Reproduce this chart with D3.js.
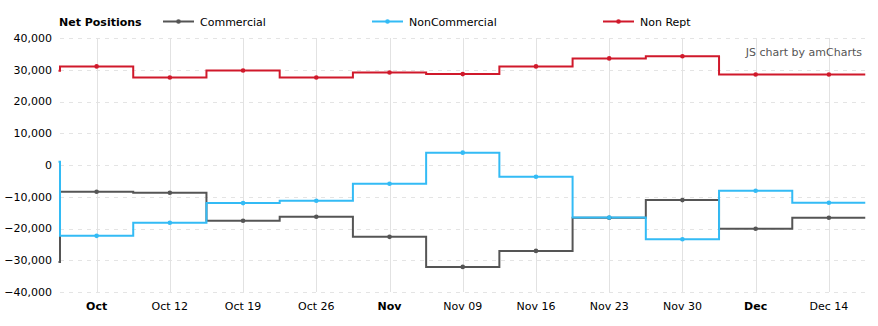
<!DOCTYPE html>
<html>
<head>
<meta charset="utf-8">
<script src="https://cdn.jsdelivr.net/npm/d3@7"></script>
<style>
  html, body { margin: 0; padding: 0; background: #fff; }
  svg { display: block; font-family: "DejaVu Sans", Verdana, sans-serif; }
</style>
</head>
<body>
<svg id="chart" width="878" height="326"></svg>
<script>
// Weekly report dates (Tuesdays); the first one sits just left of the visible window
const reportDates = ["2021-09-28", "2021-10-05", "2021-10-12", "2021-10-19", "2021-10-26",
  "2021-11-02", "2021-11-09", "2021-11-16", "2021-11-23", "2021-11-30", "2021-12-07", "2021-12-14"];

const commercial    = [-30530, -8420, -8740, -17580, -16320, -22630, -32100, -27050, -16630, -11050, -20100, -16630];
const nonCommercial = [1050, -22320, -18210, -12000, -11260, -5890, 3890, -3680, -16530, -23370, -8100, -11900];
const nonRept       = [29700, 31050, 27570, 29780, 27570, 29150, 28630, 31050, 33580, 34250, 28520, 28520];

const seriesNames  = ["Commercial", "NonCommercial", "Non Rept"];
const seriesColors = ["#555555", "#33bbf5", "#d0192b"];
const yTicks = [40000, 30000, 20000, 10000, 0, -10000, -20000, -30000, -40000];

(function () {
  const parse = d3.timeParse("%Y-%m-%d");
  const dates = reportDates.map(parse);
  const series = [commercial, nonCommercial, nonRept].map((vals, i) => ({
    name: seriesNames[i], color: seriesColors[i],
    points: vals.map((v, j) => ({ date: dates[j], value: v }))
  }));

  const svg = d3.select("#chart");
  const plotLeft = 60, plotRight = 865.5, plotTop = 38, plotBottom = 292;
  const halfWeek = 3.5 * 24 * 3600 * 1000;
  const firstShown = dates[1], lastShown = dates[dates.length - 1];

  const x = d3.scaleTime()
    .domain([new Date(+firstShown - halfWeek), new Date(+lastShown + halfWeek)])
    .range([plotLeft, plotRight]);
  const y = d3.scaleLinear().domain([-40000, 40000]).range([plotBottom, plotTop]);

  // clip region for the plot (a little slack so edge strokes keep full width)
  svg.append("defs").append("clipPath").attr("id", "plotClip")
    .append("rect").attr("x", plotLeft - 1.5).attr("y", plotTop - 5)
    .attr("width", plotRight - plotLeft + 1.5).attr("height", plotBottom - plotTop + 10);

  // horizontal dashed grid
  svg.append("g").selectAll("line").data(yTicks).join("line")
    .attr("x1", plotLeft).attr("x2", plotRight)
    .attr("y1", d => Math.round(y(d)) + 0.5).attr("y2", d => Math.round(y(d)) + 0.5)
    .attr("stroke", "#e4e4e4").attr("stroke-width", 1).attr("stroke-dasharray", "4,5");

  // weekly ticks
  const weekTicks = d3.timeTuesday.range(firstShown, new Date(+lastShown + 1));
  svg.append("g").selectAll("line").data(weekTicks).join("line")
    .attr("x1", d => Math.round(x(d)) + 0.5).attr("x2", d => Math.round(x(d)) + 0.5)
    .attr("y1", plotTop).attr("y2", plotBottom)
    .attr("stroke", "#e2e2e2").attr("stroke-width", 1);

  // y-axis labels
  const fmt = d3.format(",");
  svg.append("g").selectAll("text").data(yTicks).join("text")
    .attr("x", 52).attr("y", d => y(d)).attr("dy", "0.35em")
    .attr("text-anchor", "end").attr("font-size", 11).attr("fill", "#000")
    .text(d => fmt(d));

  // x-axis labels: month name in bold on the first week of each month
  svg.append("g").selectAll("text").data(weekTicks).join("text")
    .attr("x", d => x(d)).attr("y", 310)
    .attr("text-anchor", "middle").attr("font-size", 11).attr("fill", "#000")
    .attr("font-weight", d => d.getDate() <= 7 ? "bold" : "normal")
    .text(d => d.getDate() <= 7 ? d3.timeFormat("%b")(d) : d3.timeFormat("%b %d")(d));

  // centred step lines, last step carried to the right edge
  const path = d3.line().x(d => x(d.date)).y(d => y(d.value));
  const plot = svg.append("g").attr("clip-path", "url(#plotClip)");
  series.forEach(s => {
    const last = s.points[s.points.length - 1];
    const pts = s.points.concat([{ date: x.domain()[1], value: last.value }]);
    const stepped = [];
    pts.forEach((p, i) => {
      if (i === 0 || i === pts.length - 1) { stepped.push(p); return; }
      const prev = pts[i - 1];
      const mid = new Date((+prev.date + +p.date) / 2);
      stepped.push({ date: mid, value: prev.value });
      stepped.push({ date: mid, value: p.value });
      stepped.push(p);
    });
    plot.append("path").datum(stepped)
      .attr("d", path)
      .attr("fill", "none").attr("stroke", s.color).attr("stroke-width", 2)
      .attr("stroke-linejoin", "miter");
  });
  series.forEach(s => {
    plot.append("g").selectAll("circle").data(s.points.filter(p => p.date >= firstShown)).join("circle")
      .attr("cx", d => x(d.date)).attr("cy", d => y(d.value)).attr("r", 2.3)
      .attr("fill", s.color);
  });

  // legend
  const legend = svg.append("g");
  legend.append("text").attr("x", 59).attr("y", 26).attr("font-size", 11)
    .attr("font-weight", "bold").attr("fill", "#000").text("Net Positions");
  const legendX = [163, 372, 603];
  series.forEach((s, i) => {
    const g = legend.append("g").attr("transform", `translate(${legendX[i]},21.5)`);
    g.append("line").attr("x1", 0).attr("x2", 31).attr("stroke", s.color).attr("stroke-width", 2);
    g.append("circle").attr("cx", 15.5).attr("r", 2.3).attr("fill", s.color);
    g.append("text").attr("x", 37).attr("y", 4.5).attr("font-size", 11).attr("fill", "#000").text(s.name);
  });

  // credit
  svg.append("text").attr("x", 862).attr("y", 56).attr("text-anchor", "end")
    .attr("font-size", 11).attr("fill", "#555").text("JS chart by amCharts");
})();
</script>
</body>
</html>
